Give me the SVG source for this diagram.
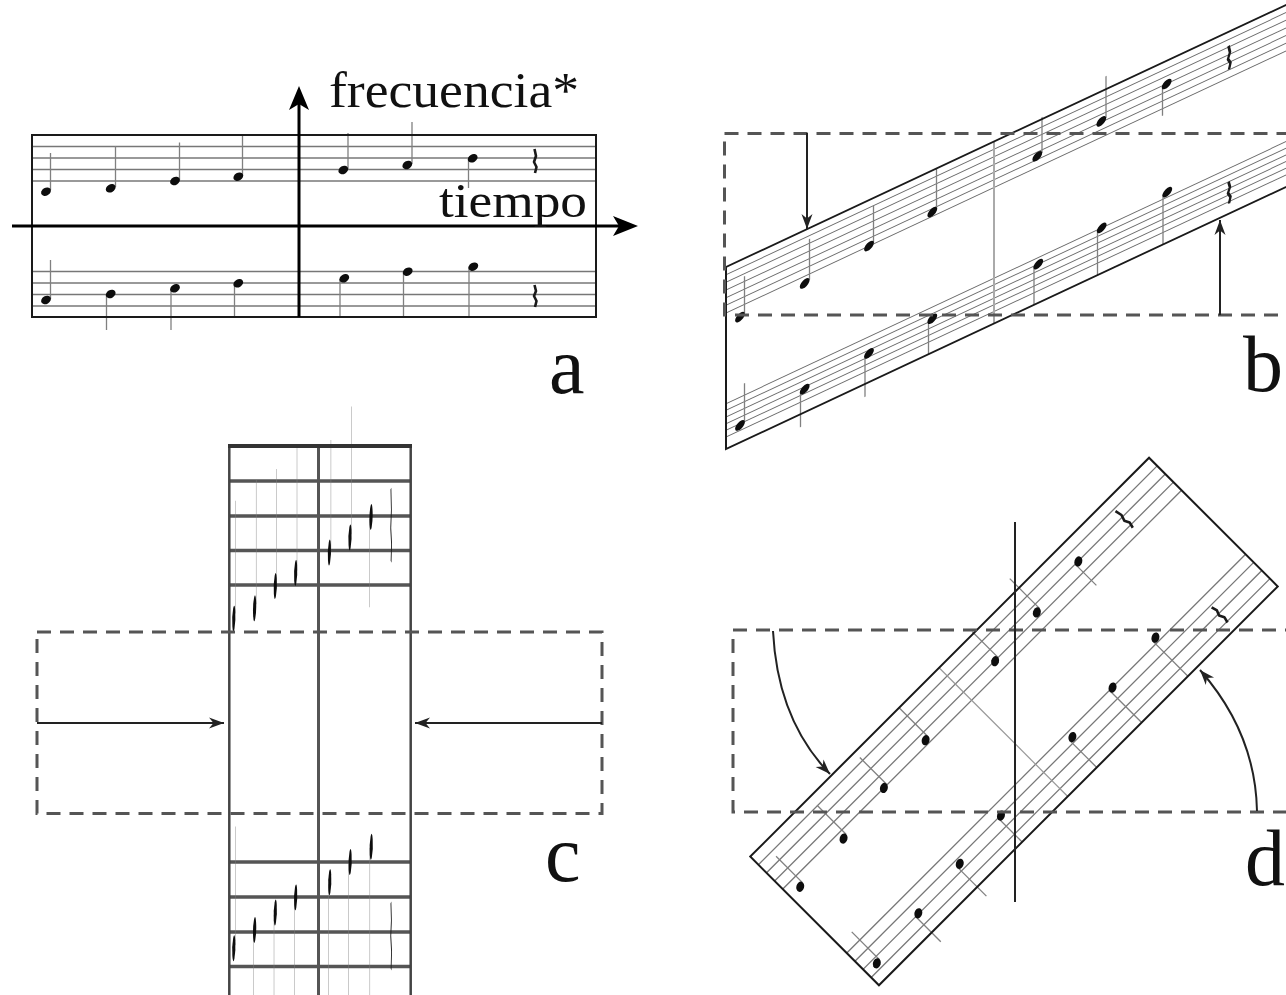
<svg xmlns="http://www.w3.org/2000/svg" width="1286" height="995" viewBox="0 0 1286 995">
<style>
.frame{fill:none;stroke:#1a1a1a;stroke-width:2}
.staff line{stroke:#777;stroke-width:1.3}
.bstaff line{stroke:#6a6a6a;stroke-width:1}
.cstaff line{stroke:#555;stroke-width:3.5}
.head{fill:#0d0d0d}
.stem{stroke:#808080;stroke-width:1.3}
.rest{fill:none;stroke:#1a1a1a;stroke-width:2.6;stroke-linejoin:round}
.dash{fill:none;stroke:#555;stroke-width:3;stroke-dasharray:14 9}
.arrow{fill:none;stroke:#222;stroke-width:2}
.lbl{font-family:"Liberation Serif","Times New Roman",serif;fill:#111}
</style>
<defs>
<marker id="ah" viewBox="-16 -6 17 12" refX="0" refY="0" markerWidth="17" markerHeight="12" orient="auto" markerUnits="userSpaceOnUse">
<path d="M0,0 L-15,-5.5 L-10.5,0 L-15,5.5 Z" fill="#222"/>
</marker>
<g id="lines" class="staff">
<line x1="32" y1="146.5" x2="596" y2="146.5"/>
<line x1="32" y1="158" x2="596" y2="158"/>
<line x1="32" y1="169.5" x2="596" y2="169.5"/>
<line x1="32" y1="181" x2="596" y2="181"/>
<line x1="32" y1="271.5" x2="596" y2="271.5"/>
<line x1="32" y1="283" x2="596" y2="283"/>
<line x1="32" y1="294.5" x2="596" y2="294.5"/>
<line x1="32" y1="306" x2="596" y2="306"/>
</g>
<g id="notes">
<g class="stem">
<line x1="50.5" y1="153" x2="50.5" y2="190"/>
<line x1="115.5" y1="146" x2="115.5" y2="187"/>
<line x1="179.5" y1="142.5" x2="179.5" y2="180"/>
<line x1="242.5" y1="135" x2="242.5" y2="176"/>
<line x1="348" y1="133" x2="348" y2="169"/>
<line x1="412" y1="122" x2="412" y2="164"/>
<line x1="468.5" y1="159" x2="468.5" y2="188"/>
<line x1="50.5" y1="260" x2="50.5" y2="299"/>
<line x1="106.5" y1="295" x2="106.5" y2="330"/>
<line x1="171" y1="289" x2="171" y2="330"/>
<line x1="234.5" y1="284" x2="234.5" y2="317"/>
<line x1="340" y1="279" x2="340" y2="317"/>
<line x1="403.5" y1="272" x2="403.5" y2="317"/>
<line x1="469" y1="267" x2="469" y2="317"/>
</g>
<g class="head">
<ellipse cx="46" cy="191.7" rx="5.2" ry="3.9" transform="rotate(-30 46 191.7)"/>
<ellipse cx="110.7" cy="188.3" rx="5.2" ry="3.9" transform="rotate(-30 110.7 188.3)"/>
<ellipse cx="175" cy="181" rx="5.2" ry="3.9" transform="rotate(-30 175 181)"/>
<ellipse cx="238.3" cy="176.7" rx="5.2" ry="3.9" transform="rotate(-30 238.3 176.7)"/>
<ellipse cx="343.3" cy="170" rx="5.2" ry="3.9" transform="rotate(-30 343.3 170)"/>
<ellipse cx="407.3" cy="165" rx="5.2" ry="3.9" transform="rotate(-30 407.3 165)"/>
<ellipse cx="472.7" cy="158.3" rx="5.2" ry="3.9" transform="rotate(-30 472.7 158.3)"/>
<ellipse cx="46" cy="300" rx="5.2" ry="3.9" transform="rotate(-30 46 300)"/>
<ellipse cx="110.7" cy="294" rx="5.2" ry="3.9" transform="rotate(-30 110.7 294)"/>
<ellipse cx="175" cy="288.3" rx="5.2" ry="3.9" transform="rotate(-30 175 288.3)"/>
<ellipse cx="238.3" cy="283.3" rx="5.2" ry="3.9" transform="rotate(-30 238.3 283.3)"/>
<ellipse cx="344.3" cy="278.3" rx="5.2" ry="3.9" transform="rotate(-30 344.3 278.3)"/>
<ellipse cx="407.7" cy="271.7" rx="5.2" ry="3.9" transform="rotate(-30 407.7 271.7)"/>
<ellipse cx="473.3" cy="266.7" rx="5.2" ry="3.9" transform="rotate(-30 473.3 266.7)"/>
</g>
<path class="rest" d="M534.5,149 L536,156 L534,162 L536.5,167 L535,173"/>
<path class="rest" d="M534.5,285 L536,291 L534,296 L536.5,301 L535,307"/>
</g>
</defs>
<rect width="1286" height="995" fill="#fff"/>

<g id="panel-a">
<use href="#lines"/>
<use href="#notes"/>
<rect class="frame" x="32" y="135" width="564" height="182"/>
<line x1="12" y1="226" x2="622" y2="226" stroke="#000" stroke-width="3"/>
<path d="M638,226 L613,216 L619,226 L613,236 Z" fill="#000"/>
<line x1="299" y1="317" x2="299" y2="102" stroke="#000" stroke-width="3"/>
<path d="M299,86 L289,110 L299,104 L309,110 Z" fill="#000"/>
<text class="lbl" x="329" y="107" font-size="50" textLength="250" lengthAdjust="spacingAndGlyphs">frecuencia*</text>
<text class="lbl" x="439" y="216.5" font-size="48" textLength="148" lengthAdjust="spacingAndGlyphs">tiempo</text>
<text class="lbl" x="549" y="393" font-size="80">a</text>
</g>

<g id="panel-b">
<g transform="translate(1008,226) matrix(1,-0.468,0,1,0,0) translate(-314,-226)">
<g class="bstaff">
<line x1="32" y1="142.7" x2="596" y2="142.7"/>
<line x1="32" y1="150.3" x2="596" y2="150.3"/>
<line x1="32" y1="158" x2="596" y2="158"/>
<line x1="32" y1="165.7" x2="596" y2="165.7"/>
<line x1="32" y1="173.3" x2="596" y2="173.3"/>
<line x1="32" y1="181" x2="596" y2="181"/>
<line x1="32" y1="271.7" x2="596" y2="271.7"/>
<line x1="32" y1="278.3" x2="596" y2="278.3"/>
<line x1="32" y1="285" x2="596" y2="285"/>
<line x1="32" y1="291.7" x2="596" y2="291.7"/>
<line x1="32" y1="298.3" x2="596" y2="298.3"/>
<line x1="32" y1="305" x2="596" y2="305"/>
</g>
<line x1="300" y1="135" x2="300" y2="317" stroke="#aaa" stroke-width="2"/>
<use href="#notes"/>
<rect class="frame" x="32" y="135" width="564" height="182"/>
</g>
<rect class="dash" x="724.5" y="133.5" width="600" height="181.5"/>
<line class="arrow" x1="807" y1="133" x2="807" y2="229" marker-end="url(#ah)"/>
<line class="arrow" x1="1220" y1="315" x2="1220" y2="220" marker-end="url(#ah)"/>
<text class="lbl" x="1243" y="391" font-size="80">b</text>
</g>

<g id="panel-c">
<g class="cstaff">
<line x1="229.3" y1="481" x2="410.7" y2="481"/>
<line x1="229.3" y1="516" x2="410.7" y2="516"/>
<line x1="229.3" y1="550.5" x2="410.7" y2="550.5"/>
<line x1="229.3" y1="585" x2="410.7" y2="585"/>
<line x1="229.3" y1="862" x2="410.7" y2="862"/>
<line x1="229.3" y1="897" x2="410.7" y2="897"/>
<line x1="229.3" y1="932" x2="410.7" y2="932"/>
<line x1="229.3" y1="966.5" x2="410.7" y2="966.5"/>
</g>
<line x1="318.5" y1="446" x2="318.5" y2="995" stroke="#555" stroke-width="3"/>
<use href="#notes" transform="translate(320,723) scale(0.3216,3.043) translate(-314,-226)"/>
<line x1="229.3" y1="446" x2="229.3" y2="995" stroke="#444" stroke-width="2.5"/>
<line x1="410.7" y1="446" x2="410.7" y2="995" stroke="#444" stroke-width="2.5"/>
<line x1="228" y1="446" x2="412" y2="446" stroke="#333" stroke-width="4"/>
<rect class="dash" x="37" y="632" width="565" height="181.5"/>
<line class="arrow" x1="37" y1="723" x2="224" y2="723" marker-end="url(#ah)"/>
<line class="arrow" x1="602" y1="723" x2="415" y2="723" marker-end="url(#ah)"/>
<text class="lbl" x="545" y="881" font-size="80">c</text>
</g>

<g id="panel-d">
<g transform="translate(1014,721.5) rotate(-45) translate(-314,-226)">
<use href="#lines"/>
<line x1="299" y1="135" x2="299" y2="317" stroke="#999" stroke-width="1.2"/>
<use href="#notes"/>
<rect class="frame" x="32" y="135" width="564" height="182"/>
</g>
<rect class="dash" x="733" y="630" width="600" height="182"/>
<line x1="1015" y1="522" x2="1015" y2="902" stroke="#222" stroke-width="2"/>
<path class="arrow" d="M773,631 C776,690 795,738 830,774" marker-end="url(#ah)"/>
<path class="arrow" d="M1257,811 C1256,760 1237,712 1200,670" marker-end="url(#ah)"/>
<text class="lbl" x="1245" y="885" font-size="80">d</text>
</g>
</svg>
